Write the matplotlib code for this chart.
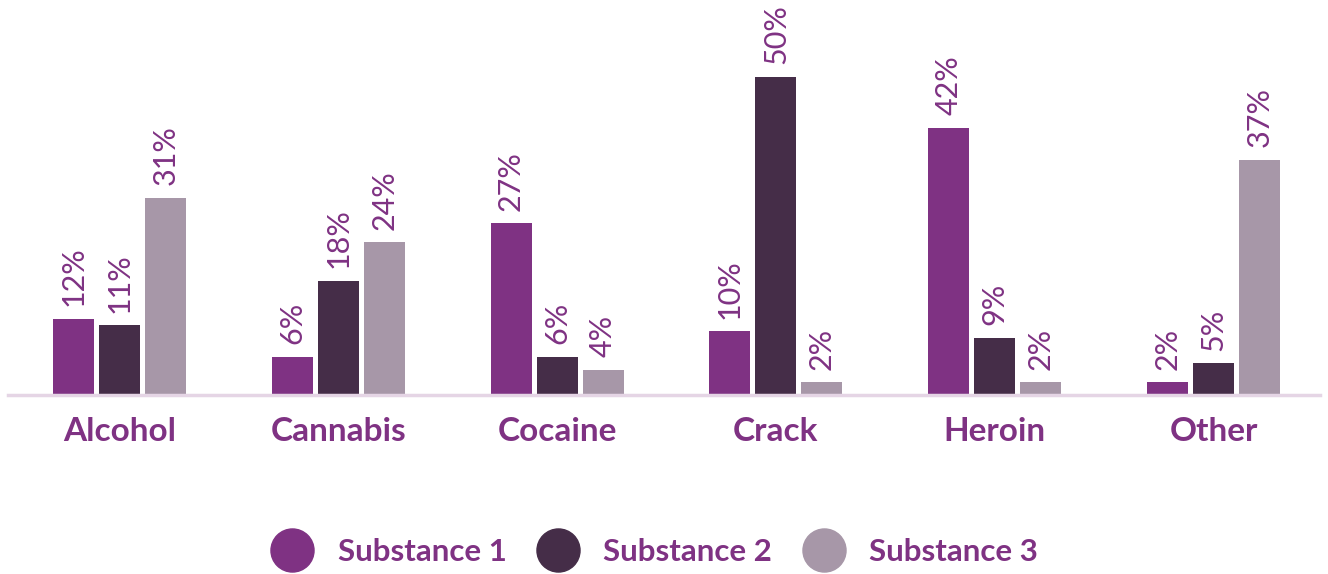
import matplotlib.pyplot as plt
import numpy as np
from matplotlib.lines import Line2D

categories = ["Alcohol", "Cannabis", "Cocaine", "Crack", "Heroin", "Other"]
series_names = ["Substance 1", "Substance 2", "Substance 3"]
substance_1 = [12, 6, 27, 10, 42, 2]
substance_2 = [11, 18, 6, 50, 9, 5]
substance_3 = [31, 24, 4, 2, 2, 37]

colors = ["#7f3283", "#452d48", "#a797a8"]
text_color = "#7f3283"

plt.rcParams['font.family'] = ['Lato', 'DejaVu Sans']

fig = plt.figure(figsize=(13.28, 5.74), dpi=100)
ax = fig.add_axes([8 / 1328, (574 - 395) / 574, 1312 / 1328, (395 - 77) / 574])

# group spacing in pixels, used for bar offsets and widths
step = 218.8
x = np.arange(len(categories))
offset = 46 / step
width = 41 / step
for k, vals in enumerate([substance_1, substance_2, substance_3]):
    pos = x + (k - 1) * offset
    ax.bar(pos, vals, width=width, color=colors[k], zorder=2)
    for px, v in zip(pos, vals):
        ax.annotate(f"{v}%", (px, v), xytext=(0, 9), textcoords="offset points",
                    rotation=90, ha="center", va="bottom", fontsize=22,
                    color=text_color, annotation_clip=False)

ax.set_xlim((8 - 119.5) / step, (1320 - 119.5) / step)
ax.set_ylim(0, 50)
for s in ["top", "right", "left"]:
    ax.spines[s].set_visible(False)
ax.spines["bottom"].set_color("#e5d5e5")
ax.spines["bottom"].set_linewidth(2.5)
ax.set_yticks([])
ax.set_xticks(x)
ax.set_xticklabels(categories, fontsize=24, fontweight="bold", color=text_color)
ax.tick_params(axis="x", length=0, pad=16)

handles = [Line2D([], [], marker="o", linestyle="", markersize=31, color=c) for c in colors]
leg = fig.legend(handles, series_names, loc="center", bbox_to_anchor=(0.492, (574 - 552) / 574),
                 ncol=3, frameon=False, fontsize=22.5, handletextpad=0.7, columnspacing=0.9,
                 handlelength=1.5)
for t in leg.get_texts():
    t.set_color(text_color)
    t.set_fontweight("bold")

fig.savefig("out.png", dpi=100)
